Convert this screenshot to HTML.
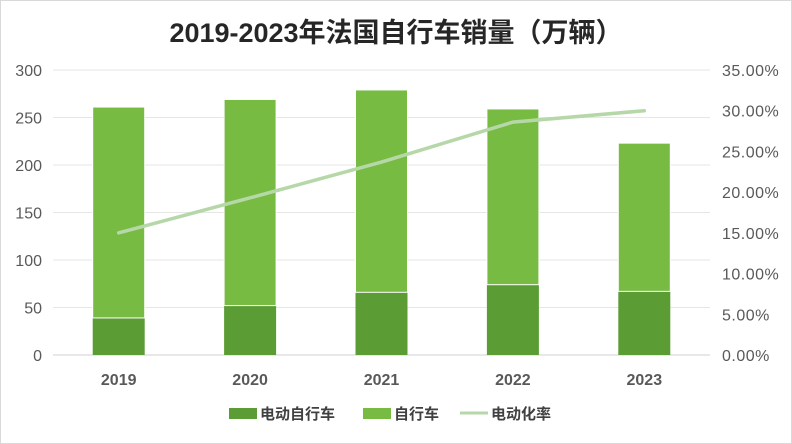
<!DOCTYPE html>
<html><head><meta charset="utf-8"><style>
body{margin:0;background:#fff;}
svg{display:block;font-family:"Liberation Sans","Noto Sans CJK SC",sans-serif;}
</style></head><body>
<svg id="c" width="792" height="444" viewBox="0 0 792 444">
<rect x="0.5" y="0.5" width="791" height="443" fill="#fff" stroke="#d9d9d9"/>
<text x="396" y="42" text-anchor="middle" font-size="27" font-weight="bold" fill="#262626">2019-2023年法国自行车销量（万辆）</text>
<g id="grid"></g><g id="bars"></g><g id="line"></g><g id="axes"></g>
<g font-weight="bold">
<rect x="229" y="408" width="28" height="11" fill="#5b9c35"/>
<text x="260" y="419" font-size="15" fill="#404040">电动自行车</text>
<rect x="363" y="408" width="28" height="11" fill="#77bb43"/>
<text x="394" y="419" font-size="15" fill="#404040">自行车</text>
<line x1="460" y1="413" x2="488" y2="413" stroke="#b6d8a8" stroke-width="3"/>
<text x="491" y="419" font-size="15" fill="#404040">电动化率</text>
</g>
</svg>
<script>
const categories=["2019","2020","2021","2022","2023"];
const ebikeValues=[39,52,66,74,67];
const totalValues=[261,269,279,259,223];
const rateValues=[15.0,19.3,23.7,28.6,30.0];
const leftTicks=[0,50,100,150,200,250,300];
const rightTicks=["0.00%","5.00%","10.00%","15.00%","20.00%","25.00%","30.00%","35.00%"];
const NS="http://www.w3.org/2000/svg";
const x0=53,x1=710,yB=355,yT=70;
const yL=v=>yB-(v/300)*(yB-yT);
const yR=v=>yB-(v/35)*(yB-yT);
const band=(x1-x0)/categories.length;
const xC=i=>x0+band*(i+0.5);
function mk(p,t,a){const e=document.createElementNS(NS,t);for(const k in a)e.setAttribute(k,a[k]);document.getElementById(p).appendChild(e);return e;}
leftTicks.forEach((v,i)=>{
 const l=mk('grid','line',{x1:x0,x2:x1,y1:yL(v),y2:yL(v),stroke:i==0?'#d0d0d0':'#e6e6e6'});
 
 
 const t=mk('axes','text',{x:42,y:yL(v)+6,'text-anchor':'end','font-size':16,fill:'#595959'});t.textContent=v;
 
 
});
rightTicks.forEach((s,i)=>{
 const t=mk('axes','text',{x:722,y:yR(i*5)+6,'font-size':16,fill:'#595959','letter-spacing':'0.5'});t.textContent=s;
 
 
});
const bw=52;
categories.forEach((c,i)=>{
 const cx=xC(i);
 const b1=mk('bars','rect',{x:cx-bw/2,y:yL(ebikeValues[i]),width:bw,height:yB-yL(ebikeValues[i]),fill:'#5b9c35'});
 
 
 const b2=mk('bars','rect',{x:cx-bw/2,y:yL(totalValues[i]),width:bw,height:yL(ebikeValues[i])-yL(totalValues[i]),fill:'#77bb43',stroke:'#fff','stroke-width':1});
 
 
 const t=mk('axes','text',{x:cx,y:385,'text-anchor':'middle','font-size':16,'font-weight':'bold',fill:'#595959'});t.textContent=c;
 
 
});
const pl=mk('line','polyline',{points:rateValues.map((v,i)=>xC(i)+','+yR(v)).join(' '),fill:'none',stroke:'#b6d8a8','stroke-width':3.5,'stroke-linecap':'round'});


</script>
</body></html>
